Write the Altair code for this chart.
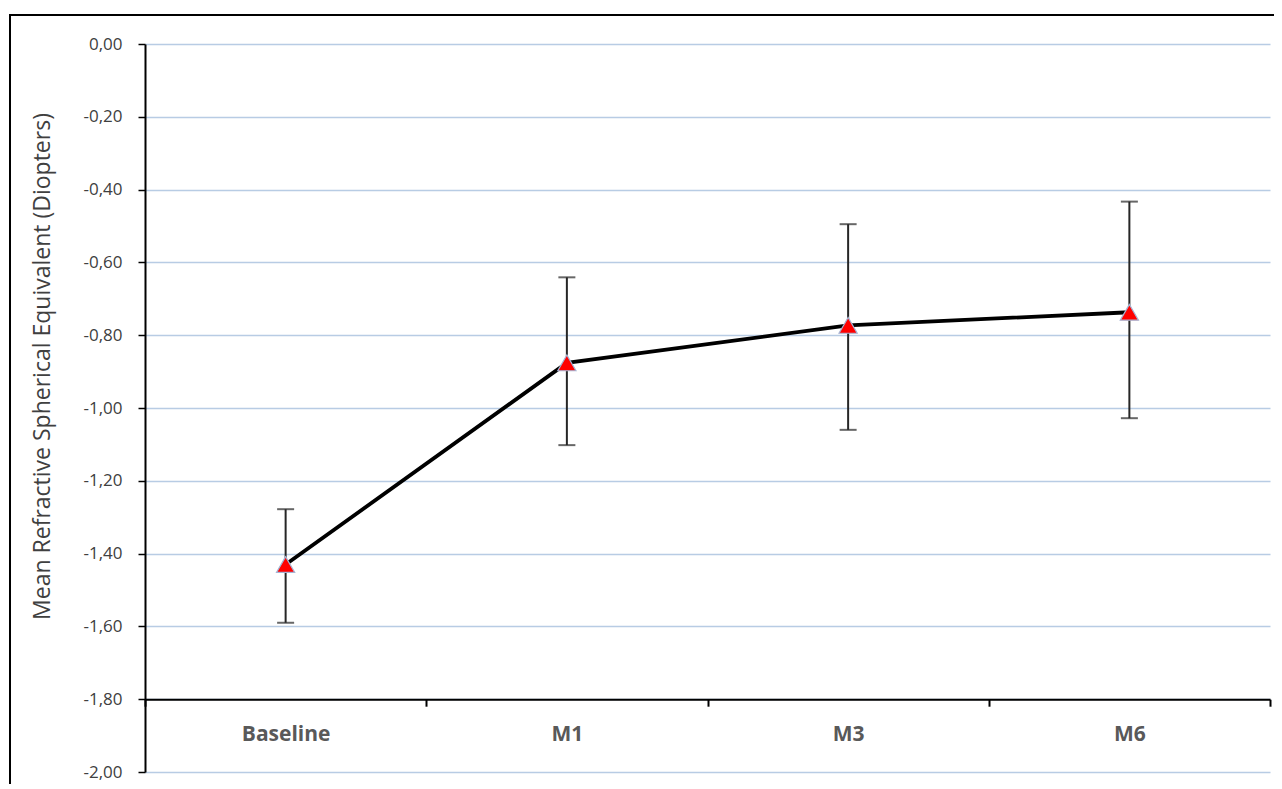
import altair as alt
import pandas as pd

categories = ["Baseline", "M1", "M3", "M6"]
means = [-1.43, -0.876, -0.773, -0.737]
lower = [-1.590, -1.102, -1.060, -1.028]
upper = [-1.278, -0.641, -0.495, -0.433]
y_ticks = [0.0, -0.2, -0.4, -0.6, -0.8, -1.0, -1.2, -1.4, -1.6, -1.8, -2.0]

df = pd.DataFrame({"cat": categories, "mean": means, "lo": lower, "hi": upper})

FONT = "Open Sans"
W, H = 1125, 728

x_enc = alt.X(
    "cat:N",
    sort=categories,
    scale=alt.Scale(type="band", paddingInner=0, paddingOuter=0),
    axis=alt.Axis(
        title=None,
        offset=-H * 0.1,
        tickBand="extent",
        domainColor="black",
        domainWidth=2,
        tickColor="black",
        tickWidth=2,
        tickSize=7,
        labelAngle=0,
        labelFont=FONT,
        labelFontSize=21,
        labelFontWeight="bold",
        labelColor="#595959",
        labelPadding=17,
        grid=False,
    ),
)

y_scale = alt.Scale(domain=[-2, 0], nice=False, zero=False)

base = alt.Chart(df)

grid_axis = alt.Axis(
    title="Mean Refractive Spherical Equivalent (Diopters)",
    titleFont=FONT,
    titleFontSize=23,
    titleFontWeight="normal",
    titleColor="#404040",
    titlePadding=28,
    titleY=322,
    values=y_ticks,
    labelExpr="replace(replace(format(datum.value, '.2f'), '.', ','), '−', '-')",
    labelFont=FONT,
    labelFontSize=17,
    labelColor="#404040",
    labelPadding=16,
    tickColor="black",
    tickSize=7,
    tickWidth=1.5,
    domainColor="black",
    domainWidth=2,
    grid=True,
    gridColor="#b8cce4",
    gridWidth=1.5,
)

errs = base.mark_rule(color="#262626", strokeWidth=2).encode(
    x=x_enc,
    y=alt.Y("lo:Q", scale=y_scale, axis=grid_axis),
    y2="hi:Q",
)
cap_lo = base.mark_tick(color="#262626", size=17, thickness=2, orient="horizontal").encode(
    x=alt.X("cat:N", sort=categories), y=alt.Y("lo:Q", scale=y_scale)
)
cap_hi = base.mark_tick(color="#262626", size=17, thickness=2, orient="horizontal").encode(
    x=alt.X("cat:N", sort=categories), y=alt.Y("hi:Q", scale=y_scale)
)
line = base.mark_line(color="black", strokeWidth=3.8).encode(
    x=alt.X("cat:N", sort=categories), y=alt.Y("mean:Q", scale=y_scale)
)
pts = base.mark_point(
    shape="triangle-up", filled=True, fill="#ff0000", stroke="#a6b4d4",
    strokeWidth=1.2, size=330, opacity=1,
).encode(x=alt.X("cat:N", sort=categories), y=alt.Y("mean:Q", scale=y_scale))

frame = alt.Chart(alt.Data(values=[{}])).mark_rect(
    fill="transparent", stroke="black", strokeWidth=2
).encode(
    x=alt.value(-135), x2=alt.value(1300), y=alt.value(-29), y2=alt.value(900)
)

chart = (
    alt.layer(errs, cap_lo, cap_hi, line, pts, frame)
    .properties(
        width=W,
        height=H,
        autosize=alt.AutoSizeParams(type="none"),
        padding={"left": 137, "top": 36, "right": 4, "bottom": 12},
        background="white",
    )
    .configure_view(strokeWidth=0)
)

chart.save("out.html", embed_options={"renderer": "svg", "actions": False})
